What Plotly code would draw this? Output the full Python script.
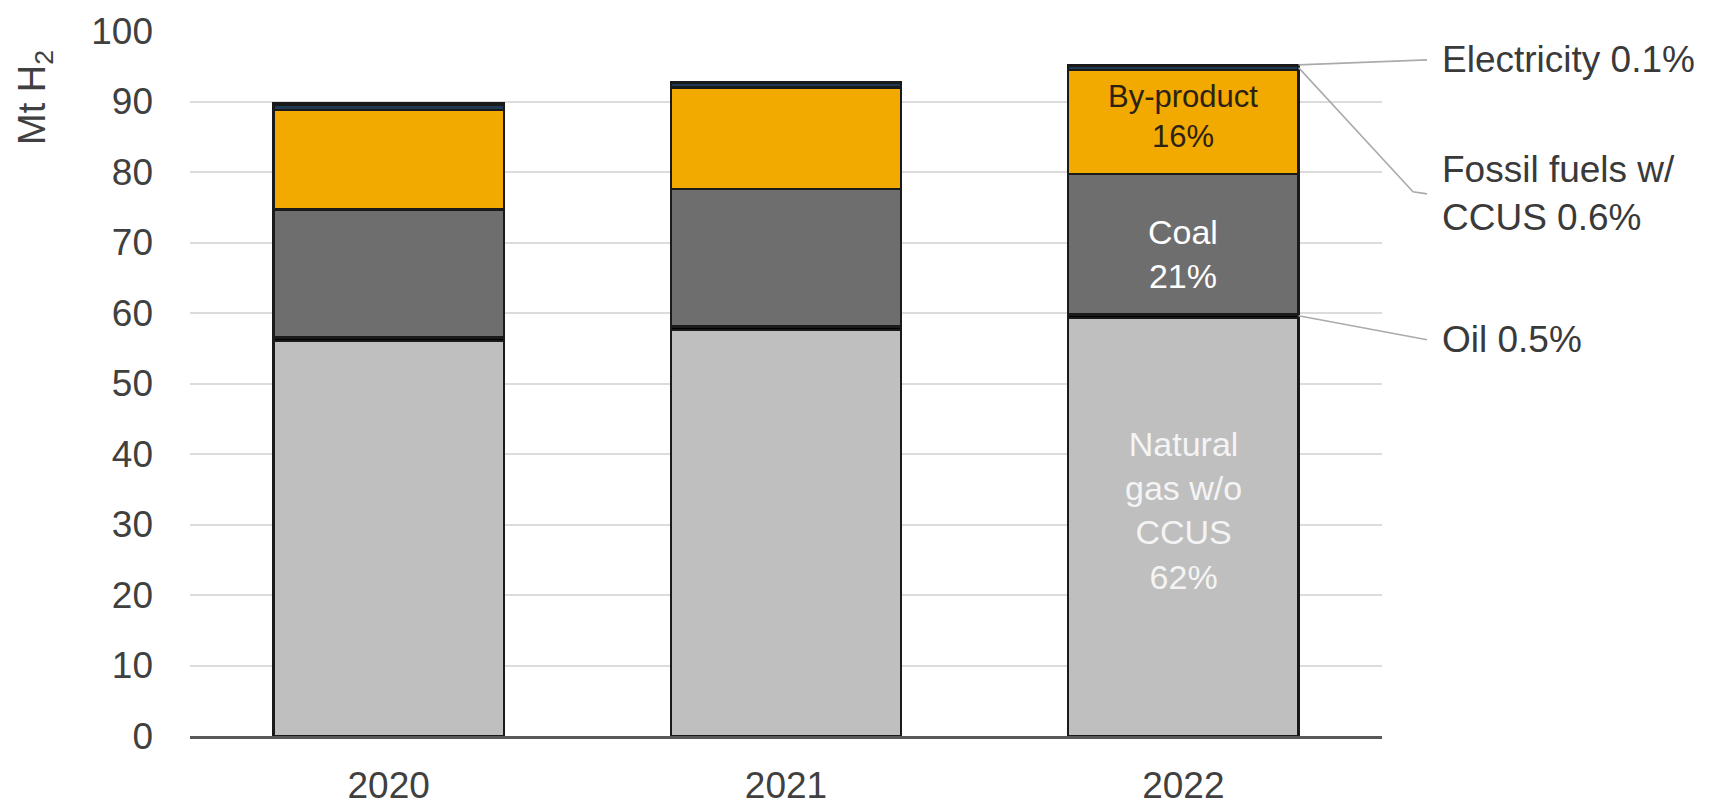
import plotly.graph_objects as go

# Hydrogen production by technology, Mt H2
years = ["2020", "2021", "2022"]
natural_gas = [56.0, 57.6, 59.3]
oil = [0.5, 0.5, 0.5]
coal = [18.2, 19.5, 19.9]
by_product = [14.1, 14.4, 14.8]
fossil_ccus = [0.8, 0.7, 0.6]
electricity = [0.1, 0.1, 0.1]

series = [
    ("Natural gas w/o CCUS", natural_gas, "#bfbfbf"),
    ("Oil", oil, "#000000"),
    ("Coal", coal, "#6e6e6e"),
    ("By-product", by_product, "#f2a900"),
    ("Fossil fuels w/ CCUS", fossil_ccus, "#1f3a52"),
    ("Electricity", electricity, "#3f6a9a"),
]

FONT = "Liberation Sans, Arial, sans-serif"
BAR_W = 0.58

fig = go.Figure()
for name, vals, col in series:
    fig.add_trace(go.Bar(
        x=years, y=vals, name=name, width=BAR_W,
        marker=dict(color=col, line=dict(color="#1a1a1a", width=2.4)),
        hoverinfo="x+y+name",
    ))

# shares of the last year, used for the labels
i = len(years) - 1
total = sum(v[i] for _, v, _ in series)
pct = {name: v[i] / total * 100 for name, v, _ in series}
cum = {}
run = 0.0
for name, v, _ in series:
    cum[name] = (run, run + v[i])
    run += v[i]

def mid(name):
    lo, hi = cum[name]
    return (lo + hi) / 2

annotations = [
    dict(x=i, y=mid("By-product") + 0.8, xref="x", yref="y",
         text=f"By-product<br>{pct['By-product']:.0f}%", showarrow=False,
         xanchor="center", yanchor="middle",
         font=dict(family=FONT, size=31, color="#2b2215")),
    dict(x=i, y=mid("Coal") - 1.4, xref="x", yref="y",
         text=f"Coal<br>{pct['Coal']:.0f}%", showarrow=False,
         xanchor="center", yanchor="middle",
         font=dict(family=FONT, size=34, color="#ffffff")),
    dict(x=i, y=mid("Natural gas w/o CCUS") + 2.4, xref="x", yref="y",
         text=f"Natural<br>gas w/o<br>CCUS<br>{pct['Natural gas w/o CCUS']:.0f}%",
         showarrow=False, xanchor="center", yanchor="middle",
         font=dict(family=FONT, size=34, color="#f4f4f4")),
    dict(x=-0.13, y=0.905, xref="paper", yref="paper", text="Mt H<sub>2</sub>",
         textangle=-90, showarrow=False, xanchor="center", yanchor="middle",
         font=dict(family=FONT, size=38, color="#404040")),
]

# callouts for the thin segments on the right
TX = 1.0487
LX = 1.0378
bar_right = (i + BAR_W / 2 + 0.5) / len(years)
callouts = [
    (f"Electricity {pct['Electricity']:.1f}%", 95.9, cum["Electricity"][1], 95.9),
    (f"Fossil fuels w/<br>CCUS {pct['Fossil fuels w/ CCUS']:.1f}%", 76.9,
     mid("Fossil fuels w/ CCUS"), 76.9),
    (f"Oil {pct['Oil']:.1f}%", 56.2, cum["Oil"][1] - 0.2, 56.2),
]
shapes = []
for text, ty, y0, y1 in callouts:
    annotations.append(dict(
        x=TX, y=ty, xref="paper", yref="y", text=text, showarrow=False,
        xanchor="left", yanchor="middle", align="left",
        font=dict(family=FONT, size=37, color="#3a3a3a"),
    ))
for (text, ty, y0, y1), bend in zip(callouts, [None, 1.026, None]):
    if bend is None:
        path = f"M {bar_right},{y0} L {LX},{y1}"
    else:
        path = f"M {bar_right},{y0} L {bend},{y1 + 0.3} L {LX},{y1}"
    shapes.append(dict(type="path", xref="paper", yref="y", path=path,
                       line=dict(color="#ababab", width=1.6)))

fig.update_layout(
    width=1726, height=806,
    barmode="stack",
    showlegend=False,
    plot_bgcolor="white", paper_bgcolor="white",
    margin=dict(l=190, r=344, t=31, b=70),
    font=dict(family=FONT, color="#404040"),
    annotations=annotations,
    shapes=shapes,
    xaxis=dict(
        type="category", automargin=False,
        showgrid=False, showline=True, linecolor="#595959", linewidth=2.5,
        ticks="", tickfont=dict(family=FONT, size=37, color="#404040"),
        ticklabelstandoff=15, range=[-0.5, 2.5],
    ),
    yaxis=dict(
        automargin=False,
        range=[0, 100], dtick=10, showgrid=True, gridcolor="#dcdcdc", gridwidth=2,
        zeroline=False, showline=False, ticks="",
        tickfont=dict(family=FONT, size=37, color="#404040"),
        ticklabelstandoff=36,
    ),
)

fig.write_html("out.html")
